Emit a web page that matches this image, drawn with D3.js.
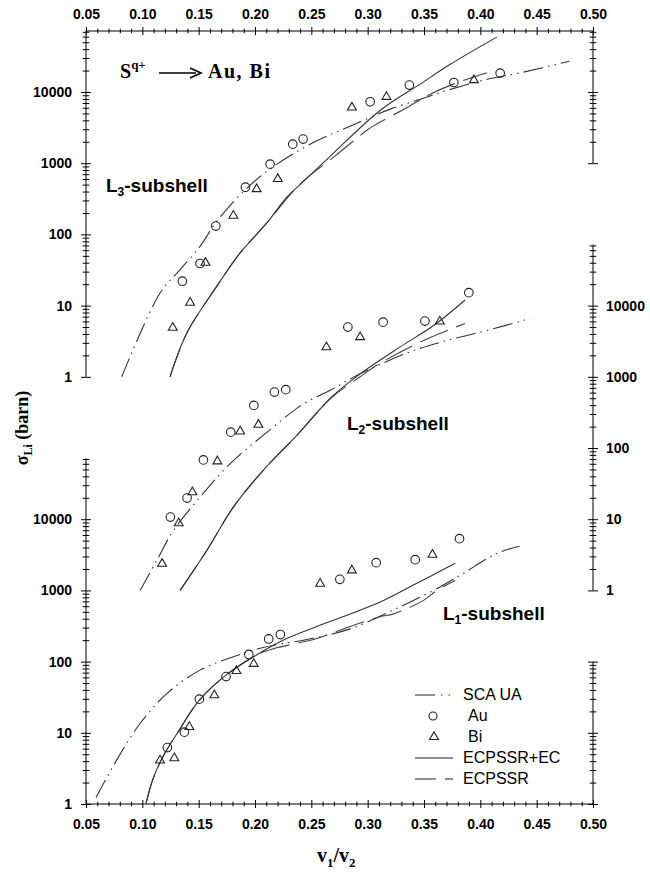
<!DOCTYPE html>
<html>
<head>
<meta charset="utf-8">
<script src="https://cdn.jsdelivr.net/npm/d3@7"></script>
<style>
  body { margin: 0; background: #fff; }
  svg { display: block; }
</style>
</head>
<body>
<div id="chart"></div>
<script>
// ─── Data (v1/v2, sigma in barn) ───────────────────────────────────────
// L3-subshell
const l3Au = [[0.1355, 22], [0.1512, 39], [0.1652, 131], [0.1915, 460], [0.2134, 970], [0.2335, 1850],
  [0.2427, 2180], [0.3022, 7300], [0.337, 12500], [0.3765, 13600], [0.4176, 18400]];
const l3Bi = [[0.127, 4.9], [0.1424, 11], [0.156, 40], [0.1808, 183], [0.2015, 433], [0.2202, 600],
  [0.286, 6060], [0.3167, 8570], [0.3943, 14700]];
const l3Sca = [[0.0817, 1], [0.1157, 15], [0.1335, 32], [0.1512, 68], [0.166, 152], [0.1897, 400],
  [0.2134, 830], [0.2518, 1950], [0.2844, 3300], [0.3022, 4400], [0.32, 5750], [0.3466, 7900],
  [0.3703, 10500], [0.4058, 15100], [0.4354, 18600], [0.479, 27000]];
const l3Ec = [[0.1246, 1], [0.1394, 4.1], [0.166, 18.6], [0.1868, 55], [0.2105, 145], [0.228, 330],
  [0.24, 500], [0.2667, 1250], [0.311, 5500], [0.3466, 12900], [0.3733, 24500], [0.4146, 59000]];
const l3Ecpssr = [[0.1246, 1], [0.1394, 4.1], [0.166, 18.6], [0.1868, 55], [0.2105, 145], [0.24, 510],
  [0.271, 1260], [0.2993, 2900], [0.308, 3550], [0.3346, 6000], [0.3555, 9300], [0.376, 12900], [0.4058, 18600]];

// L2-subshell
const l2Au = [[0.1249, 10.7], [0.1397, 19.8], [0.1542, 68], [0.1785, 167], [0.199, 396], [0.2172, 610],
  [0.2273, 660], [0.2824, 4990], [0.3137, 5860], [0.3508, 6060], [0.3898, 15200]];
const l2Bi = [[0.1175, 2.37], [0.1323, 8.8], [0.1444, 24], [0.1666, 65], [0.1868, 171], [0.203, 212],
  [0.2634, 2610], [0.2933, 3610], [0.364, 6000]];
const l2Sca = [[0.098, 1], [0.1128, 2.63], [0.1275, 6.9], [0.1512, 20.4], [0.1778, 60], [0.2105, 166],
  [0.243, 417], [0.2667, 646], [0.2933, 1100], [0.3377, 2240], [0.3703, 3240], [0.4058, 4470], [0.4443, 6600]];
const l2Ec = [[0.1335, 1], [0.1572, 3.63], [0.1808, 14.8], [0.2075, 49], [0.2371, 150], [0.268, 520],
  [0.2933, 1100], [0.3288, 2630], [0.3585, 5250], [0.3865, 12000]];
const l2Ecpssr = [[0.1335, 1], [0.1572, 3.63], [0.1808, 14.8], [0.2075, 49], [0.2371, 150], [0.268, 510],
  [0.2933, 1000], [0.308, 1450], [0.3496, 3240], [0.3865, 5620]];

// L1-subshell
const l1Au = [[0.1222, 6.2], [0.1373, 10.2], [0.1506, 29.7], [0.1743, 61.6], [0.1945, 126], [0.2122, 208],
  [0.2225, 240], [0.2753, 1430], [0.3075, 2455], [0.3422, 2700], [0.3815, 5330]];
const l1Bi = [[0.1157, 4.1], [0.1284, 4.4], [0.1417, 12.1], [0.1639, 33.8], [0.1835, 74], [0.1989, 93],
  [0.2578, 1245], [0.286, 1914], [0.3575, 3180]];
const l1Sca = [[0.0589, 1.23], [0.0773, 4.17], [0.098, 13.5], [0.1217, 35.5], [0.1512, 75.9], [0.1808, 117],
  [0.2075, 158], [0.249, 209], [0.2844, 288], [0.3288, 589], [0.3644, 1122], [0.385, 1738], [0.4146, 3311], [0.4348, 4169]];
const l1Ec = [[0.1033, 1.02], [0.1092, 2.19], [0.1181, 4.57], [0.1329, 11], [0.1506, 28.8], [0.1743, 64.6],
  [0.201, 123], [0.2276, 209], [0.2542, 309], [0.2696, 380], [0.3141, 724], [0.3437, 1259], [0.3777, 2399]];
const l1Ecpssr = [[0.1033, 1.02], [0.1092, 2.19], [0.1181, 4.57], [0.1329, 11], [0.1506, 28.8], [0.1743, 64.6],
  [0.201, 123], [0.2158, 151], [0.2542, 209], [0.2875, 324], [0.311, 427], [0.323, 468], [0.3496, 724],
  [0.3614, 1000], [0.3777, 1380]];

const xTickValues = d3.range(5, 51).map(i => i / 100);
const legendLabels = ['SCA UA', 'Au', 'Bi', 'ECPSSR+EC', 'ECPSSR'];

// ─── Layout ────────────────────────────────────────────────────────────
const W = 650, H = 876;
const svg = d3.select('#chart').append('svg')
  .attr('width', W).attr('height', H)
  .style('font-family', '"Liberation Sans", Arial, sans-serif');

const x = d3.scaleLinear().domain([0.05, 0.5]).range([86, 593]);

// one shared log grid, each panel shifted by whole decades
const DEC = 71.2, Y0 = 804, YTOP = 31;
const gTop = (Y0 - YTOP) / DEC;
function panelScale(offset) {
  return d3.scaleLog().domain([10 ** -offset, 10 ** (gTop - offset)]).range([Y0, YTOP]);
}
const yL1 = panelScale(0), yL2 = panelScale(3), yL3 = panelScale(6);
const spineTop = 10 ** (gTop - 6);

const isMajor = v => Math.abs(Math.log10(v) - Math.round(Math.log10(v))) < 1e-9;

function logAxis(scale, lo, hi, side, labelled) {
  const ticks = [];
  for (let d = Math.floor(Math.log10(lo)); d <= Math.ceil(Math.log10(hi)); d++) {
    for (let m = 1; m <= 9; m++) {
      const v = m * 10 ** d;
      if (v >= lo * 0.999 && v <= hi * 1.001) ticks.push(v);
    }
  }
  const ax = (side === 'left' ? d3.axisLeft(scale) : d3.axisRight(scale))
    .tickValues(ticks).tickSize(5).tickSizeOuter(0)
    .tickPadding(side === 'left' ? 9 : 8)
    .tickFormat(v => labelled && isMajor(v) ? String(Math.round(v)) : '');
  const g = svg.append('g')
    .attr('transform', `translate(${side === 'left' ? x.range()[0] : x.range()[1]},0)`)
    .call(ax);
  g.select('.domain').remove();
  g.append('line').attr('y1', scale(lo)).attr('y2', scale(hi)).attr('stroke', '#000');
  const s = side === 'left' ? -1 : 1;
  g.selectAll('.tick line')
    .attr('x1', v => isMajor(v) ? -s * 5 : -s * 3.3)
    .attr('x2', v => isMajor(v) ? s * 5 : s * 3.3)
    .attr('stroke', '#000');
  g.selectAll('text').attr('font-size', 14).attr('font-weight', 'bold').attr('fill', '#000');
}

function xAxis(top) {
  const yPos = top ? YTOP : Y0;
  const ax = (top ? d3.axisTop(x) : d3.axisBottom(x))
    .tickValues(xTickValues).tickSize(4).tickSizeOuter(0)
    .tickPadding(top ? 8 : 11)
    .tickFormat(v => Math.round(v * 100) % 5 === 0 ? d3.format('.2f')(v) : '');
  const g = svg.append('g').attr('transform', `translate(0,${yPos})`).call(ax);
  g.select('.domain').remove();
  g.append('line').attr('x1', x.range()[0]).attr('x2', x.range()[1]).attr('stroke', '#000');
  g.selectAll('.tick line')
    .attr('y1', v => Math.round(v * 100) % 5 === 0 ? -4 : -2.3)
    .attr('y2', v => Math.round(v * 100) % 5 === 0 ? 4 : 2.3)
    .attr('stroke', '#000');
  g.selectAll('text').attr('font-size', 14).attr('font-weight', 'bold').attr('fill', '#000');
}

xAxis(true);
xAxis(false);
logAxis(yL3, 1, spineTop, 'left', true);
logAxis(yL3, 1000, spineTop, 'right', false);
logAxis(yL2, 1, spineTop, 'right', true);
logAxis(yL1, 1, spineTop, 'left', true);
logAxis(yL1, 1, 100, 'right', false);

// ─── Curves and points ────────────────────────────────────────────────
const styles = {
  sca: { dash: '20,5,1.5,5,1.5,5', color: '#333' },
  ec: { dash: null, color: '#333' },
  ecpssr: { dash: '30,9', color: '#444' }
};

const panels = [
  { y: yL3, sca: l3Sca, ec: l3Ec, ecpssr: l3Ecpssr, au: l3Au, bi: l3Bi },
  { y: yL2, sca: l2Sca, ec: l2Ec, ecpssr: l2Ecpssr, au: l2Au, bi: l2Bi },
  { y: yL1, sca: l1Sca, ec: l1Ec, ecpssr: l1Ecpssr, au: l1Au, bi: l1Bi }
];

const triangle = d3.symbol().type(d3.symbolTriangle).size(34);

panels.forEach(p => {
  const line = d3.line().x(d => x(d[0])).y(d => p.y(d[1])).curve(d3.curveCatmullRom.alpha(0.5));
  ['ecpssr', 'ec', 'sca'].forEach(k => {
    svg.append('path')
      .attr('d', line(p[k]))
      .attr('fill', 'none')
      .attr('stroke', styles[k].color)
      .attr('stroke-width', 1.1)
      .attr('stroke-dasharray', styles[k].dash);
  });
  svg.append('g').selectAll('circle')
    .data(p.au).join('circle')
    .attr('cx', d => x(d[0])).attr('cy', d => p.y(d[1]))
    .attr('r', 4.3)
    .attr('fill', 'none').attr('stroke', '#222').attr('stroke-width', 1.1);
  svg.append('g').selectAll('path')
    .data(p.bi).join('path')
    .attr('d', triangle)
    .attr('transform', d => `translate(${x(d[0])},${p.y(d[1])})`)
    .attr('fill', 'none').attr('stroke', '#222').attr('stroke-width', 1.1);
});

// ─── Panel labels ─────────────────────────────────────────────────────
function shellLabel(px, py, sub) {
  const t = svg.append('text')
    .attr('x', px).attr('y', py)
    .attr('font-size', 19).attr('font-weight', 'bold').attr('fill', '#000');
  t.append('tspan').text('L');
  t.append('tspan').attr('font-size', 12).attr('dy', 4).text(sub);
  t.append('tspan').attr('dy', -4).text('-subshell');
}
shellLabel(106, 192, '3');
shellLabel(347, 430, '2');
shellLabel(443, 620, '1');

// Title: S^q+ → Au, Bi
const serif = '"Liberation Serif", "Times New Roman", serif';
const title = svg.append('text')
  .attr('x', 120).attr('y', 78)
  .attr('font-family', serif).attr('font-size', 20).attr('font-weight', 'bold');
title.append('tspan').text('S');
title.append('tspan').attr('font-size', 13).attr('dy', -9).text('q+');
svg.append('line')
  .attr('x1', 159).attr('x2', 196).attr('y1', 73).attr('y2', 73)
  .attr('stroke', '#000').attr('stroke-width', 1.4);
svg.append('path')
  .attr('d', 'M190,68 L201,73 L190,78')
  .attr('fill', 'none').attr('stroke', '#000').attr('stroke-width', 1.6);
svg.append('text')
  .attr('x', 208).attr('y', 78)
  .attr('font-family', serif).attr('font-size', 20).attr('font-weight', 'bold')
  .attr('letter-spacing', 1.5)
  .text('Au, Bi');

// Axis titles
const yTitle = svg.append('text')
  .attr('transform', 'translate(28,428) rotate(-90)')
  .attr('text-anchor', 'middle')
  .attr('font-family', serif).attr('font-size', 18).attr('font-weight', 'bold');
yTitle.append('tspan').text('σ');
yTitle.append('tspan').attr('font-size', 12).attr('dy', 4).text('Li');
yTitle.append('tspan').attr('dy', -4).text(' (barn)');

const xTitle = svg.append('text')
  .attr('x', 317).attr('y', 862)
  .attr('font-family', serif).attr('font-size', 20).attr('font-weight', 'bold');
xTitle.append('tspan').text('v');
xTitle.append('tspan').attr('font-size', 13).attr('dy', 5).text('1');
xTitle.append('tspan').attr('dy', -5).text('/v');
xTitle.append('tspan').attr('font-size', 13).attr('dy', 5).text('2');

// ─── Legend ───────────────────────────────────────────────────────────
const legX0 = 415, legX1 = 453, legText = 463, legY = 700, legStep = 21;
const legend = svg.append('g');
legendLabels.forEach((lab, i) => {
  const yb = legY + i * legStep;
  const ym = yb - 5;
  if (lab === 'Au') {
    legend.append('circle').attr('cx', 433).attr('cy', ym).attr('r', 4)
      .attr('fill', 'none').attr('stroke', '#222').attr('stroke-width', 1.1);
  } else if (lab === 'Bi') {
    legend.append('path').attr('d', triangle).attr('transform', `translate(434,${ym})`)
      .attr('fill', 'none').attr('stroke', '#222').attr('stroke-width', 1.1);
  } else {
    const dash = lab === 'SCA UA' ? '20,6,1.5,6,1.5,6' : lab === 'ECPSSR' ? '21,9,8,3' : null;
    legend.append('line')
      .attr('x1', legX0).attr('x2', legX1).attr('y1', ym).attr('y2', ym)
      .attr('stroke', '#222').attr('stroke-width', 1.1)
      .attr('stroke-dasharray', dash);
  }
  legend.append('text')
    .attr('x', lab === 'Au' || lab === 'Bi' ? legText + 5 : legText).attr('y', yb)
    .attr('font-size', 16).attr('fill', '#000')
    .text(lab);
});
</script>
</body>
</html>
